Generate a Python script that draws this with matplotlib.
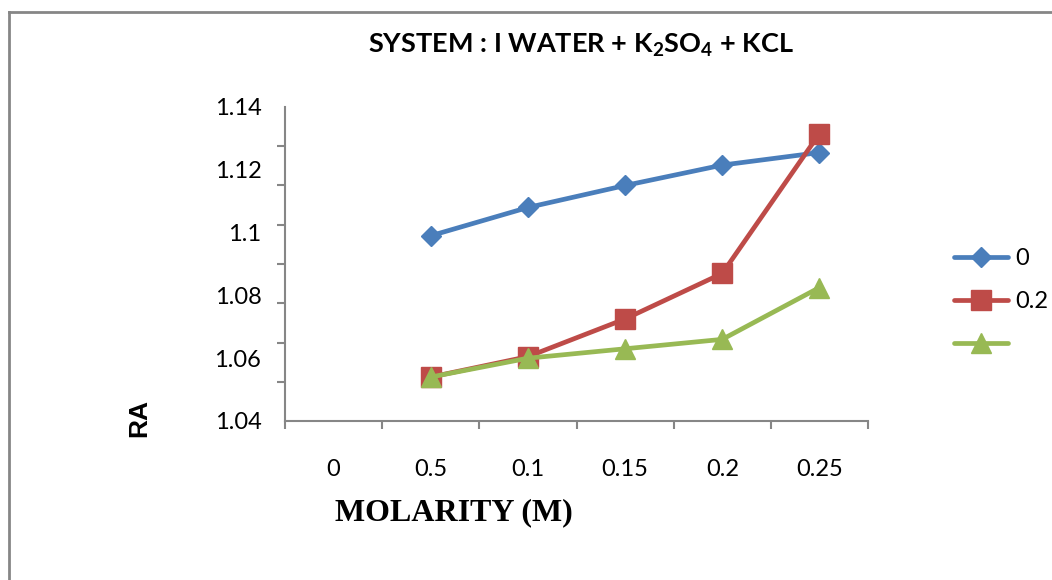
import matplotlib

matplotlib.use("Agg")
import matplotlib.pyplot as plt
from matplotlib.lines import Line2D
import numpy as np

# molarity categories on the x axis (first one has no readings)
categories = ["0", "0.5", "0.1", "0.15", "0.2", "0.25"]
series_labels = ["0", "0.2", ""]
ra_0 = [None, 1.099, 1.108, 1.115, 1.1215, 1.1255]
ra_02 = [None, 1.054, 1.0605, 1.0725, 1.087, 1.1315]
ra_3 = [None, 1.054, 1.060, 1.063, 1.066, 1.0825]
y_labels = [1.04, 1.06, 1.08, 1.1, 1.12, 1.14]

colors = ["#4A7EBB", "#BE4B48", "#98B954"]
markers = ["D", "s", "^"]
msizes = [10, 14, 14]

plt.rcParams["mathtext.fontset"] = "custom"
plt.rcParams["mathtext.rm"] = "Lato"
plt.rcParams["mathtext.bf"] = "Lato:bold"

W, H = 1052, 580
fig = plt.figure(figsize=(W / 100, H / 100), dpi=100)

# outer chart border (only top and left edges are visible)
fig.add_artist(Line2D([9 / W, 9 / W], [0, 1 - 12 / H], color="#868686", lw=2))
fig.add_artist(Line2D([9 / W, 1], [1 - 12 / H, 1 - 12 / H], color="#868686", lw=2))

ax = fig.add_axes([285 / W, 1 - 421 / H, (868 - 285) / W, (421 - 107) / H])
x = np.arange(len(categories))
handles = []
for vals, c, m, ms in zip([ra_0, ra_02, ra_3], colors, markers, msizes):
    xs = [xi for xi, v in zip(x, vals) if v is not None]
    ys = [v for v in vals if v is not None]
    (ln,) = ax.plot(xs, ys, color=c, lw=3.4, marker=m, ms=ms, mec=c, mfc=c,
                    solid_capstyle="round", solid_joinstyle="round")
    handles.append(ln)

ax.set_xlim(-0.5, len(categories) - 0.5)
ax.set_ylim(1.04, 1.14)
ax.set_xticks(x)
ax.set_xticklabels(categories)
ax.set_xticks(np.arange(-0.5, len(categories), 1.0), minor=True)
ax.set_yticks(y_labels)
ax.set_yticklabels([f"{v:g}" for v in y_labels])
ax.set_yticks(np.linspace(1.04, 1.14, 9), minor=True)
ax.tick_params(which="major", length=0, labelsize=17)
ax.tick_params(axis="x", which="major", pad=27)
ax.tick_params(axis="y", which="major", pad=17)
ax.tick_params(which="minor", length=6, width=1.5, color="#868686", direction="out")
for lab in ax.get_xticklabels() + ax.get_yticklabels():
    lab.set_fontfamily("Lato")
for side in ["top", "right"]:
    ax.spines[side].set_visible(False)
for side in ["left", "bottom"]:
    ax.spines[side].set_color("#868686")
    ax.spines[side].set_linewidth(1.5)

fig.text(581 / W, 1 - 45 / H,
         r"SYSTEM : I WATER + K$_\mathbf{2}$SO$_\mathbf{4}$ + KCL",
         ha="center", va="center", fontsize=19.5, fontweight="bold", family="Lato")
fig.text(454 / W, 1 - 513 / H, "MOLARITY (M)", ha="center", va="center",
         fontsize=23, fontweight="bold", family="Liberation Serif")
fig.text(139 / W, 1 - 418 / H, "RA", ha="center", va="center", rotation=90,
         fontsize=19, fontweight="bold", family="Liberation Sans")

leg = fig.legend(handles, series_labels, loc="upper left",
                 bbox_to_anchor=(942 / W, 1 - 236 / H), frameon=False,
                 handlelength=2.3, handletextpad=0.3, labelspacing=0.95,
                 borderpad=0, prop={"family": "Lato", "size": 17})

fig.savefig("out.png", dpi=100, facecolor="white")
